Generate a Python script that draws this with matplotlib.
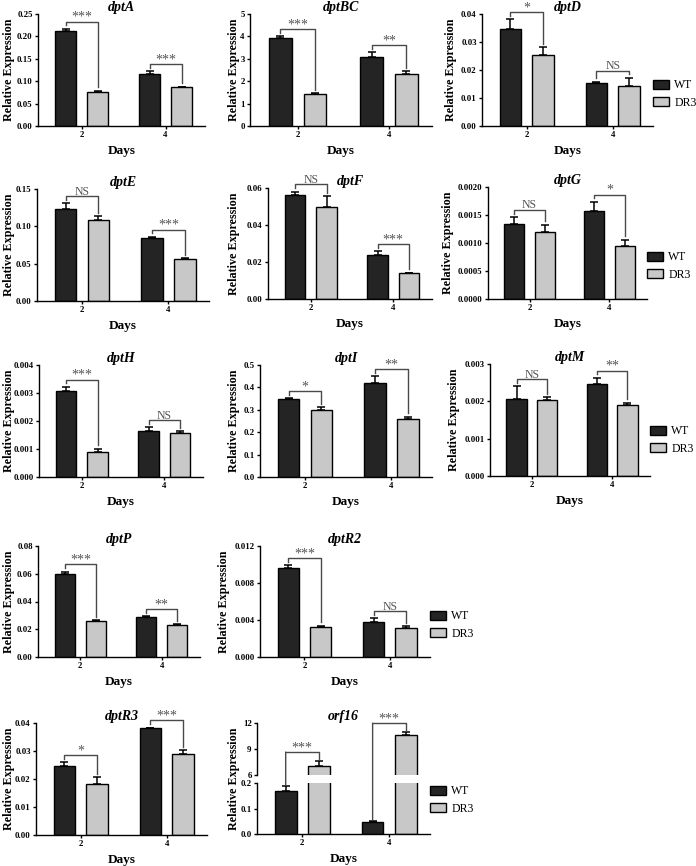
import matplotlib
matplotlib.use('Agg')
import matplotlib.pyplot as plt
import numpy as np
from matplotlib.patches import Patch, ConnectionPatch

plt.rcParams['font.family'] = ['Liberation Serif', 'DejaVu Serif']

# ---------------- data ----------------
genes = ['dptA', 'dptBC', 'dptD', 'dptE', 'dptF', 'dptG',
         'dptH', 'dptI', 'dptM', 'dptP', 'dptR2', 'dptR3']
days = ['2', '4']
groups = ['WT', 'DR3']

wt_mean = [[0.213, 0.117], [3.92, 3.10], [0.0345, 0.0155], [0.123, 0.084],
           [0.056, 0.024], [0.00134, 0.00158], [0.00308, 0.00164],
           [0.348, 0.418], [0.00207, 0.00246], [0.0599, 0.0285],
           [0.00959, 0.00382], [0.0247, 0.0381]]
wt_err = [[0.004, 0.005], [0.09, 0.2], [0.0036, 0.0003], [0.008, 0.002],
          [0.002, 0.0018], [0.000125, 0.000155], [0.00014, 0.00013],
          [0.003, 0.031], [0.00033, 0.00017], [0.0017, 0.001],
          [0.00036, 0.00036], [0.0013, 0.0002]]
dr3_mean = [[0.077, 0.087], [1.42, 2.32], [0.0252, 0.0142], [0.109, 0.0565],
            [0.050, 0.014], [0.00120, 0.00095], [0.00088, 0.00157],
            [0.297, 0.260], [0.00203, 0.00191], [0.0259, 0.0230],
            [0.00328, 0.00317], [0.0183, 0.0290]]
dr3_err = [[0.002, 0.001], [0.04, 0.14], [0.003, 0.003], [0.005, 0.001],
           [0.0055, 0.0003], [0.00013, 0.00011], [0.00013, 0.00006],
           [0.016, 0.010], [0.00008, 0.00005], [0.0005, 0.0007],
           [0.0001, 0.00015], [0.0024, 0.0012]]
signif = [['***', '***'], ['***', '**'], ['*', 'NS'], ['NS', '***'],
          ['NS', '***'], ['NS', '*'], ['***', 'NS'], ['*', '**'],
          ['NS', '**'], ['***', '**'], ['***', 'NS'], ['*', '***']]
y_max = [0.25, 5, 0.04, 0.15, 0.06, 0.002, 0.004, 0.5, 0.003, 0.08, 0.012, 0.04]
y_step = [0.05, 1, 0.01, 0.05, 0.02, 0.0005, 0.001, 0.1, 0.001, 0.02, 0.004, 0.01]
y_dec = [2, 0, 2, 2, 2, 4, 3, 1, 3, 2, 3, 2]

# orf16 (broken axis)
orf16_wt_mean = [0.169, 0.048]
orf16_wt_err = [0.018, 0.002]
orf16_dr3_mean = [7.03, 10.62]
orf16_dr3_err = [0.6, 0.35]
orf16_signif = ['***', '***']

# ---------------- layout (pixels: left, right, top, bottom) ----------------
W, H = 696, 866
boxes = [(38, 205, 14, 126), (250, 432, 14, 126), (482, 653, 14, 126),
         (37, 209, 189, 301), (268, 432, 188, 299), (488, 647, 187, 299),
         (39, 203, 365, 477), (260, 432, 365, 477), (490, 650, 364, 476),
         (38, 200, 546, 657), (260, 430, 546, 657), (36, 207, 723, 835)]
orf_up_box = (257, 430, 723, 775)
orf_low_box = (257, 430, 783, 834)
legend_after = {2: 94, 5: 266, 8: 440, 10: 625}
ylabel_px = {0: 15, 3: 15, 6: 15, 9: 15, 11: 15,
             1: 240, 4: 240, 7: 240}

fig = plt.figure(figsize=(W / 100, H / 100), dpi=100)

WT_COLOR = '#242424'
DR3_COLOR = '#c8c8c8'
SIG_LINE = '#4a4a4a'
SIG_TEXT = '#555555'
OFF = 0.19
BW = 0.25
XLIM = (-0.52, 1.47)
x = np.arange(len(days))


def add_axes_px(b):
    l, r, t, bt = b
    return fig.add_axes([l / W, 1 - bt / H, (r - l) / W, (bt - t) / H])


def style_axes(ax, bottom=True):
    ax.spines['top'].set_visible(False)
    ax.spines['right'].set_visible(False)
    ax.spines['left'].set_linewidth(1.0)
    ax.spines['bottom'].set_linewidth(1.0)
    if not bottom:
        ax.spines['bottom'].set_visible(False)
    ax.tick_params(axis='both', direction='out', length=2.3, width=1.0,
                   labelsize=6.3, pad=1.5)
    for lab in ax.get_yticklabels() + ax.get_xticklabels():
        lab.set_fontweight('bold')


def draw_bars(ax, wm, we, dm, de):
    ax.bar(x - OFF, wm, BW, color=WT_COLOR, edgecolor='black', linewidth=1.0, zorder=2)
    ax.bar(x + OFF, dm, BW, color=DR3_COLOR, edgecolor='black', linewidth=1.0, zorder=2)
    ax.errorbar(x - OFF, wm, yerr=[np.zeros(len(wm)), we], fmt='none', ecolor='black',
                elinewidth=1.1, capsize=2.6, capthick=1.1, zorder=1)
    ax.errorbar(x + OFF, dm, yerr=[np.zeros(len(dm)), de], fmt='none', ecolor='black',
                elinewidth=1.1, capsize=2.6, capthick=1.1, zorder=1)


def sig_text(ax, xc, y, s):
    fs = 10 if '*' in s else 8.5
    ax.annotate(s, (xc, y), xytext=(0, 0.5 if '*' in s else 1),
                textcoords='offset points',
                ha='center', va='baseline', fontsize=fs, color=SIG_TEXT,
                annotation_clip=False)


def legend_at(ypx, xpx):
    handles = [Patch(facecolor=WT_COLOR, edgecolor='black', linewidth=1.0),
               Patch(facecolor=DR3_COLOR, edgecolor='black', linewidth=1.0)]
    fig.legend(handles, groups, loc='center left',
               bbox_to_anchor=(xpx / W, 1 - ypx / H), frameon=False,
               fontsize=8.5, handlelength=1.35, handleheight=0.75,
               handletextpad=0.45, labelspacing=0.45, borderpad=0,
               borderaxespad=0)


for i, g in enumerate(genes):
    ax = add_axes_px(boxes[i])
    wm, we, dm, de = wt_mean[i], wt_err[i], dr3_mean[i], dr3_err[i]
    draw_bars(ax, wm, we, dm, de)
    ym = y_max[i]
    ax.set_ylim(0, ym)
    ax.set_xlim(*XLIM)
    ticks = np.arange(0, ym + y_step[i] / 2, y_step[i])
    ax.set_yticks(ticks, labels=[f'{t:.{y_dec[i]}f}' for t in ticks])
    ax.set_xticks(x, labels=days)
    style_axes(ax)
    ax.set_title(g, fontstyle='italic', fontweight='bold', fontsize=10, pad=2)
    ax.set_xlabel('Days', fontweight='bold', fontsize=9.5, labelpad=4)
    ax.set_ylabel('Relative Expression', fontweight='bold', fontsize=8.7, labelpad=3)
    if i in ylabel_px:
        l, r = boxes[i][0], boxes[i][1]
        ax.yaxis.set_label_coords((ylabel_px[i] - l) / (r - l), 0.5)
    for j in range(len(days)):
        tw = wm[j] + we[j]
        td = dm[j] + de[j]
        yb = max(tw, td) + 0.065 * ym
        xl, xr = x[j] - OFF, x[j] + OFF
        ax.plot([xl, xl, xr, xr], [tw + 0.03 * ym, yb, yb, td + 0.03 * ym],
                color=SIG_LINE, lw=1.0, clip_on=False, zorder=3)
        sig_text(ax, x[j], yb, signif[i][j])
    if i in legend_after:
        legend_at(legend_after[i], boxes[i][1])

# ---------------- orf16 broken axis ----------------
ax_up = add_axes_px(orf_up_box)
ax_lo = add_axes_px(orf_low_box)
for a in (ax_up, ax_lo):
    draw_bars(a, orf16_wt_mean, orf16_wt_err, orf16_dr3_mean, orf16_dr3_err)
    a.set_xlim(*XLIM)
ax_up.set_ylim(6, 12)
ax_lo.set_ylim(0, 0.2)
ax_up.set_yticks([6, 9, 12], labels=['6', '9', '12'])
ax_lo.set_yticks([0, 0.1, 0.2], labels=['0.0', '0.1', '0.2'])
ax_up.set_xticks([])
ax_lo.set_xticks(x, labels=days)
style_axes(ax_up, bottom=False)
style_axes(ax_lo)
ax_up.set_title('orf16', fontstyle='italic', fontweight='bold', fontsize=10, pad=2)
ax_lo.set_xlabel('Days', fontweight='bold', fontsize=9.5, labelpad=4)
ax_lo.set_ylabel('Relative Expression', fontweight='bold', fontsize=8.7)
ax_lo.yaxis.set_label_coords((240 - orf_low_box[0]) / (orf_low_box[1] - orf_low_box[0]), 1.09)
for j in range(len(days)):
    tw = orf16_wt_mean[j] + orf16_wt_err[j]
    td = orf16_dr3_mean[j] + orf16_dr3_err[j]
    yb = td + 0.17 * 6
    xl, xr = x[j] - OFF, x[j] + OFF
    ax_up.plot([xl, xr, xr], [yb, yb, td + 0.03 * 6], color=SIG_LINE, lw=1.0,
               clip_on=False, zorder=3)
    con = ConnectionPatch(xyA=(xl, yb), coordsA=ax_up.transData,
                          xyB=(xl, tw + 0.03 * 0.2), coordsB=ax_lo.transData,
                          color=SIG_LINE, lw=1.0, zorder=3)
    fig.add_artist(con)
    sig_text(ax_up, x[j], yb, orf16_signif[j])
legend_at(800, orf_up_box[1])

fig.savefig('out.png', dpi=100)
